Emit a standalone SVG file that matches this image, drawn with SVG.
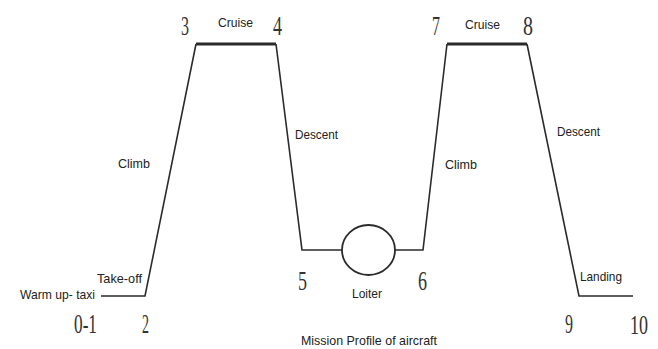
<svg xmlns="http://www.w3.org/2000/svg" width="658" height="349" viewBox="0 0 658 349">
<style>
.seg{fill:none;stroke:#2b2b2b;stroke-width:1.6;stroke-linejoin:miter}
.cruise{fill:none;stroke:#2b2b2b;stroke-width:2.8}
.lbl{font-family:"Liberation Sans",Arial,sans-serif;font-size:13px;fill:#222}
.num{font-family:"Liberation Serif","Times New Roman",serif;font-size:28px;fill:#333}
</style>
<rect width="658" height="349" fill="#fff"/>
<g id="connectors">
<polyline class="seg" points="101,296 145,296 196,44"/>
<line class="cruise" x1="196" y1="44" x2="276" y2="44"/>
<polyline class="seg" points="276,44 302,250 342,250"/>
<polyline class="seg" points="395,250 423,250 447,44"/>
<line class="cruise" x1="447" y1="44" x2="527" y2="44"/>
<polyline class="seg" points="527,44 579,296 633,296"/>
</g>
<g id="loiter">
<ellipse cx="368.5" cy="250" rx="26.5" ry="25" fill="#fff" stroke="#2b2b2b" stroke-width="1.8"/>
<text class="lbl" x="352" y="298" textLength="30" lengthAdjust="spacingAndGlyphs">Loiter</text>
</g>
<g id="p0-1"><text class="num" x="74" y="333" textLength="23" lengthAdjust="spacingAndGlyphs">0-1</text></g>
<g id="p2"><text class="num" x="142" y="333" textLength="7" lengthAdjust="spacingAndGlyphs">2</text></g>
<g id="p3"><text class="num" x="181" y="35" textLength="8" lengthAdjust="spacingAndGlyphs">3</text></g>
<g id="p4"><text class="num" x="273" y="35" textLength="9" lengthAdjust="spacingAndGlyphs">4</text></g>
<g id="p5"><text class="num" x="298" y="290" textLength="9" lengthAdjust="spacingAndGlyphs">5</text></g>
<g id="p6"><text class="num" x="418" y="290" textLength="9" lengthAdjust="spacingAndGlyphs">6</text></g>
<g id="p7"><text class="num" x="432" y="35" textLength="8" lengthAdjust="spacingAndGlyphs">7</text></g>
<g id="p8"><text class="num" x="523" y="35" textLength="10" lengthAdjust="spacingAndGlyphs">8</text></g>
<g id="p9"><text class="num" x="565" y="333" textLength="8" lengthAdjust="spacingAndGlyphs">9</text></g>
<g id="p10"><text class="num" x="630" y="334" textLength="18" lengthAdjust="spacingAndGlyphs">10</text></g>
<g id="labels">
<text class="lbl" x="20" y="299" textLength="75" lengthAdjust="spacingAndGlyphs">Warm up- taxi</text>
<text class="lbl" x="97" y="283" textLength="45" lengthAdjust="spacingAndGlyphs">Take-off</text>
<text class="lbl" x="118" y="168" textLength="32" lengthAdjust="spacingAndGlyphs">Climb</text>
<text class="lbl" x="218" y="27" textLength="35" lengthAdjust="spacingAndGlyphs">Cruise</text>
<text class="lbl" x="295" y="139" textLength="43" lengthAdjust="spacingAndGlyphs">Descent</text>
<text class="lbl" x="445" y="169" textLength="32" lengthAdjust="spacingAndGlyphs">Climb</text>
<text class="lbl" x="465" y="29" textLength="35" lengthAdjust="spacingAndGlyphs">Cruise</text>
<text class="lbl" x="557" y="136" textLength="43" lengthAdjust="spacingAndGlyphs">Descent</text>
<text class="lbl" x="580" y="281" textLength="42" lengthAdjust="spacingAndGlyphs">Landing</text>
<text class="lbl" x="301" y="345" textLength="136" lengthAdjust="spacingAndGlyphs">Mission Profile of aircraft</text>
</g>
</svg>
